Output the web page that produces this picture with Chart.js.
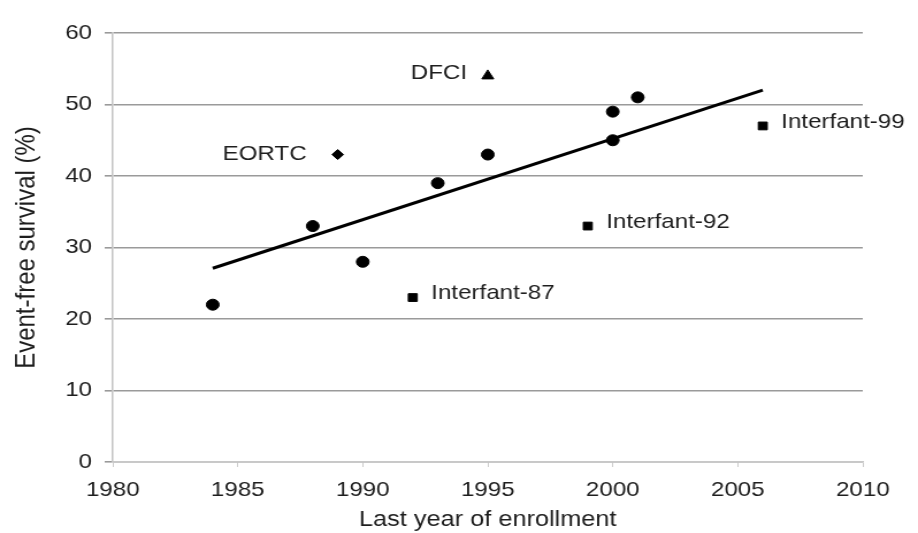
<!DOCTYPE html>
<html>
<head>
<meta charset="utf-8">
<script src="https://cdn.jsdelivr.net/npm/chart.js@4.4.1/dist/chart.umd.min.js"></script>
<style>
  html, body { margin: 0; padding: 0; background: #ffffff; }
  #wrap { width: 918px; height: 533px; position: relative; overflow: hidden; }
  /* the reference is a horizontally stretched figure: draw at 798px and show at 918px */
  #c { display: block; width: 918px; height: 533px; }
</style>
</head>
<body>
<div id="wrap"><canvas id="c" width="798" height="533" style="width:918px;height:533px"></canvas></div>
<script>
// ---- data ----
const circleX = [1984, 1988, 1990, 1993, 1995, 2000, 2000, 2001];
const circleY = [22, 33, 28, 39, 43, 49, 45, 51];

const squareX = [1992, 1999, 2006];
const squareY = [23, 33, 47];
const squareLabels = ['Interfant-87', 'Interfant-92', 'Interfant-99'];

const triangleX = [1995];
const triangleY = [54];
const triangleLabels = ['DFCI'];

const diamondX = [1989];
const diamondY = [43];
const diamondLabels = ['EORTC'];

const trendX = [1984, 2006];
const trendY = [27.1, 52];

const xTicks = [1980, 1985, 1990, 1995, 2000, 2005, 2010];
const yTicks = [0, 10, 20, 30, 40, 50, 60];

const xTitle = 'Last year of enrollment';
const yTitle = 'Event-free survival (%)';

// ---- build ----
const pts = (xs, ys) => xs.map((x, i) => ({ x: x, y: ys[i] }));
const FONT = "'Liberation Sans', Arial, sans-serif";
const TXT = '#1e1e1e';

const labelPlugin = {
  id: 'pointLabels',
  afterDatasetsDraw(chart) {
    const ctx = chart.ctx;
    ctx.save();
    ctx.font = '21px ' + FONT;
    ctx.fillStyle = TXT;
    ctx.textBaseline = 'middle';
    chart.data.datasets.forEach((ds, di) => {
      if (!ds.pointLabels) return;
      const meta = chart.getDatasetMeta(di);
      meta.data.forEach((el, i) => {
        const lab = ds.pointLabels[i];
        if (ds.labelSide === 'left') {
          ctx.textAlign = 'right';
          ctx.fillText(lab, el.x - ds.labelGap, el.y + ds.labelDy);
        } else {
          ctx.textAlign = 'left';
          ctx.fillText(lab, el.x + ds.labelGap, el.y + ds.labelDy);
        }
      });
    });
    ctx.restore();
  }
};

new Chart(document.getElementById('c'), {
  type: 'scatter',
  data: {
    datasets: [
      {
        label: 'trend',
        type: 'line',
        data: pts(trendX, trendY),
        borderColor: '#000000',
        borderWidth: 3,
        pointRadius: 0,
        fill: false,
        order: 5
      },
      {
        label: 'studies',
        data: pts(circleX, circleY),
        pointStyle: 'circle',
        pointRadius: 5.5,
        backgroundColor: '#000000',
        borderColor: '#000000',
        order: 1
      },
      {
        label: 'Interfant',
        data: pts(squareX, squareY),
        pointStyle: 'rect',
        pointRadius: 5.5,
        backgroundColor: '#000000',
        borderColor: '#000000',
        pointLabels: squareLabels,
        labelSide: 'right',
        labelGap: 16,
        labelDy: -4,
        order: 1
      },
      {
        label: 'DFCI',
        data: pts(triangleX, triangleY),
        pointStyle: 'triangle',
        pointRadius: 6,
        backgroundColor: '#000000',
        borderColor: '#000000',
        pointLabels: triangleLabels,
        labelSide: 'left',
        labelGap: 18,
        labelDy: -3,
        order: 1
      },
      {
        label: 'EORTC',
        data: pts(diamondX, diamondY),
        pointStyle: 'rectRot',
        pointRadius: 5,
        backgroundColor: '#000000',
        borderColor: '#000000',
        pointLabels: diamondLabels,
        labelSide: 'left',
        labelGap: 27,
        labelDy: 0,
        order: 1
      }
    ]
  },
  options: {
    responsive: false,
    animation: false,
    devicePixelRatio: 1,
    layout: { padding: { left: 9, right: 48, top: 33, bottom: 0 } },
    plugins: {
      legend: { display: false },
      tooltip: { enabled: false }
    },
    scales: {
      x: {
        type: 'linear',
        min: xTicks[0],
        max: xTicks[xTicks.length - 1],
        afterBuildTicks(scale) { scale.ticks = xTicks.map(v => ({ value: v })); },
        afterFit(scale) { scale.height = 71; },
        grid: { drawOnChartArea: false, drawTicks: true, tickLength: 5, color: '#cccccc' },
        border: { color: '#c8c8c8', width: 1.5 },
        ticks: {
          padding: 11,
          color: TXT,
          font: { family: FONT, size: 21 },
          callback: v => String(v)
        },
        title: {
          display: true,
          text: xTitle,
          color: TXT,
          font: { family: FONT, size: 22 },
          padding: { top: 0, bottom: 0 }
        }
      },
      y: {
        min: yTicks[0],
        max: yTicks[yTicks.length - 1],
        afterBuildTicks(scale) { scale.ticks = yTicks.map(v => ({ value: v })); },
        afterFit(scale) { scale.width = 89; },
        grid: { color: '#9a9a9a', lineWidth: 1.6, tickLength: 7 },
        border: { color: '#c4c4c4', width: 1.5 },
        ticks: {
          padding: 11,
          color: TXT,
          font: { family: FONT, size: 21 },
          callback: v => String(v)
        },
        title: {
          display: true,
          text: yTitle,
          color: TXT,
          font: { family: FONT, size: 24 },
          padding: { top: 0, bottom: 0 }
        }
      }
    }
  },
  plugins: [labelPlugin]
});
</script>
</body>
</html>
